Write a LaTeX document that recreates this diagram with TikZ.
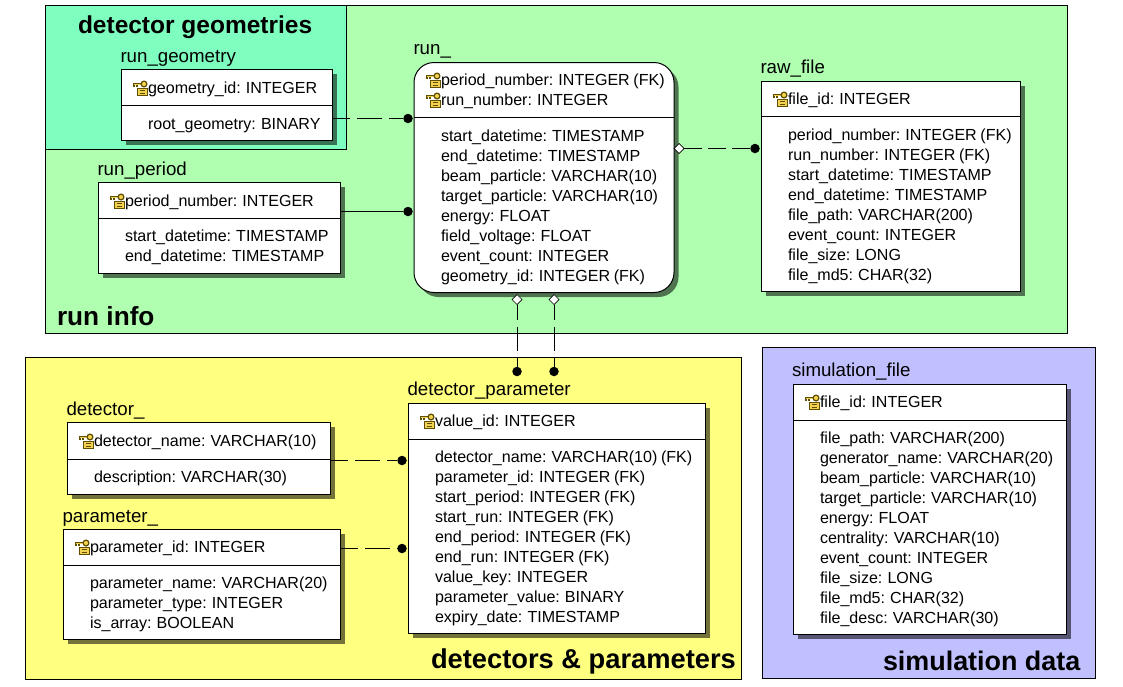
\documentclass[tikz,border=0pt]{standalone}
\usepackage{fontspec}
\setmainfont{Liberation Sans}
\usetikzlibrary{calc,shapes.geometric}
\definecolor{rungreen}{HTML}{B0FFB0}
\definecolor{geomteal}{HTML}{7FFFBF}
\definecolor{detyellow}{HTML}{FFFF80}
\definecolor{simblue}{HTML}{C0C0FF}
\definecolor{keygold}{HTML}{F2D250}
\definecolor{keyedge}{HTML}{5F4E00}
\tikzset{
  region/.style={draw=black,line width=1pt,rectangle,anchor=north west,inner sep=0pt,outer sep=0pt},
  entitybox/.style={draw=black,fill=white,line width=1pt,rectangle,anchor=north west,inner sep=0pt,outer sep=0pt},
  entityshadow/.style={fill=black,fill opacity=.55,rectangle,anchor=north west,inner sep=0pt,outer sep=0pt},
  field/.style={anchor=base west,inner sep=0pt,outer sep=0pt,font=\fontsize{16.05}{20}\selectfont},
  entname/.style={anchor=base west,inner sep=0pt,outer sep=0pt,font=\fontsize{18.7}{20}\selectfont},
  biglabel/.style={anchor=base west,inner sep=0pt,outer sep=0pt,font=\fontsize{27}{30}\selectfont\bfseries},
  rel/.style={line width=1pt,draw=black},
  reldash/.style={rel,dash pattern=on 25pt off 7pt,dash phase=7pt},
  rawdash/.style={rel,dash pattern=on 18pt off 6pt},
  vertdash/.style={rel,dash pattern=on 24pt off 7pt,dash phase=9pt},
  dot/.style={circle,fill=black,draw=none,minimum size=9.5pt,inner sep=0pt,outer sep=0pt},
  opend/.style={diamond,draw=black,fill=white,line width=.7pt,minimum size=10pt,inner sep=0pt,outer sep=0pt},
  keyicon/.pic={
    \fill[keygold,draw=keyedge,line width=.9pt] (4.5,8) rectangle (14,14.5);
    \draw[keyedge,line width=1pt] (6.5,10) -- (12,10) (6.5,12.5) -- (12,12.5);
    \draw[keyedge,line width=2.2pt] (0,3.5) -- (8.5,3.5);
    \draw[keygold,line width=.9pt] (0.5,3.5) -- (8.5,3.5);
    \draw[keyedge,line width=1.1pt] (1,4) -- (1,6.5) (4,4) -- (4,6);
    \fill[keygold,draw=keyedge,line width=1.2pt] (11,3.5) circle (2.9);
  }
}
% [extra] x1, y1, x2, y2, divider y, title, name
\newcommand{\entity}[8][]{%
  \node[entityshadow,#1,minimum width={#4-#2},minimum height={#5-#3}] (#8-sh) at ({#2+4.5},{#3+4.5}) {};
  \node[entitybox,#1,minimum width={#4-#2},minimum height={#5-#3}] (#8) at (#2,#3) {};
  \draw[line width=1pt] (#8.west |- 0,#6) -- (#8.east |- 0,#6);
}
\newcommand{\enttitle}[4]{\node[entname] (#1-title) at (#2,#3) {#4};}
% prefix, x of text, first baseline, rows
\newcommand{\fields}[4]{%
  \foreach \rowtext [count=\rowi] in {#4}
    \node[field,name=#1-\rowi] at (#2,{#3+20*(\rowi-1)}) {\spaceskip=3.6pt\relax\rowtext};
}
\begin{document}
\begin{tikzpicture}[x=1pt,y=-1pt]
\useasboundingbox (0,0) rectangle (1123,686);
\begin{scope}[yshift=-.5pt]
% regions
\node[region,fill=rungreen,minimum width=1022pt,minimum height=328pt] (runinfo) at (45,5) {};
\node[region,fill=geomteal,minimum width=301pt,minimum height=144pt] (geomreg) at (45,5) {};
\node[region,fill=detyellow,minimum width=716pt,minimum height=322pt] (detreg) at (25,357) {};
\node[region,fill=simblue,minimum width=333pt,minimum height=331pt] (simreg) at (762,347) {};
\node[biglabel,font=\fontsize{24.5}{27}\selectfont\bfseries] (lab1) at (78,33) {detector geometries};
\node[biglabel,font=\fontsize{26.2}{29}\selectfont\bfseries] (lab2) at (57,325) {run info};
\node[biglabel,font=\fontsize{27.3}{30}\selectfont\bfseries] (lab3) at (431,668) {detectors \& parameters};
\node[biglabel,font=\fontsize{26.9}{30}\selectfont\bfseries] (lab4) at (883,670) {simulation data};
% entities
\entity{121}{69}{332}{140}{105}{run\_geometry}{geom}
\entity{98}{182}{340}{273}{218}{run\_period}{period}
\entity[rounded corners=20pt]{414}{62}{674}{292}{117}{run\_}{run}
\entity{761}{81}{1020}{291}{116}{raw\_file}{raw}
\entity{67}{422}{330}{494}{459}{detector\_}{det}
\entity{63}{529}{340}{639}{565}{parameter\_}{par}
\entity{408}{403}{705}{633}{439}{detector\_parameter}{dp}
\entity{793}{384}{1066}{634}{420}{simulation\_file}{sim}
\enttitle{geom}{120.5}{62}{run\_geometry}
\enttitle{period}{97.5}{175}{run\_period}
\enttitle{run}{413.5}{54}{run\_}
\enttitle{raw}{760.5}{73}{raw\_file}
\enttitle{det}{66.5}{415}{detector\_}
\enttitle{par}{62.5}{522}{parameter\_}
\enttitle{dp}{407.5}{395}{detector\_parameter}
\enttitle{sim}{792}{376}{simulation\_file}
% rows
\fields{geomk}{148}{93}{geometry\_id: INTEGER}
\fields{geomf}{148}{129}{root\_geometry: BINARY}
\fields{periodk}{125}{206}{period\_number: INTEGER}
\fields{periodf}{125}{241}{start\_datetime: TIMESTAMP,end\_datetime: TIMESTAMP}
\fields{runk}{441}{85}{period\_number: INTEGER (FK),run\_number: INTEGER}
\fields{runf}{441}{141}{start\_datetime: TIMESTAMP,end\_datetime: TIMESTAMP,beam\_particle: VARCHAR(10),target\_particle: VARCHAR(10),energy: FLOAT,field\_voltage: FLOAT,event\_count: INTEGER,geometry\_id: INTEGER (FK)}
\fields{rawk}{788}{104}{file\_id: INTEGER}
\fields{rawf}{788}{140}{period\_number: INTEGER (FK),run\_number: INTEGER (FK),start\_datetime: TIMESTAMP,end\_datetime: TIMESTAMP,file\_path: VARCHAR(200),event\_count: INTEGER,file\_size: LONG,file\_md5: CHAR(32)}
\fields{detk}{94}{446}{detector\_name: VARCHAR(10)}
\fields{detf}{94}{482}{description: VARCHAR(30)}
\fields{park}{90}{552}{parameter\_id: INTEGER}
\fields{parf}{90}{588}{parameter\_name: VARCHAR(20),parameter\_type: INTEGER,is\_array: BOOLEAN}
\fields{dpk}{435}{426}{value\_id: INTEGER}
\fields{dpf}{435}{462}{detector\_name: VARCHAR(10) (FK),parameter\_id: INTEGER (FK),start\_period: INTEGER (FK),start\_run: INTEGER (FK),end\_period: INTEGER (FK),end\_run: INTEGER (FK),value\_key: INTEGER,parameter\_value: BINARY,expiry\_date: TIMESTAMP}
\fields{simk}{820}{407}{file\_id: INTEGER}
\fields{simf}{820}{443}{file\_path: VARCHAR(200),generator\_name: VARCHAR(20),beam\_particle: VARCHAR(10),target\_particle: VARCHAR(10),energy: FLOAT,centrality: VARCHAR(10),event\_count: INTEGER,file\_size: LONG,file\_md5: CHAR(32),file\_desc: VARCHAR(30)}
% key icons
\foreach \kx/\ky in {133/80,110/193,426/72,426/92,773/91,79/433,75/539,420/413,805/394}
  \pic at (\kx,\ky) {keyicon};
% connectors
\coordinate (geomend) at (332,118);
\node[dot] (d1) at (408,118) {};
\draw[reldash] (geom.east |- geomend) -- (d1);
\node[dot] (d2) at (408,211) {};
\draw[rel] (period.east |- d2) -- (d2);
\node[opend] (o3) at (679,148) {};
\node[dot] (d3) at (755,148) {};
\draw[rawdash] (o3) -- (d3);
\node[opend] (o4) at (517,299) {};
\node[dot] (d4) at (517,371) {};
\draw[vertdash] (o4) -- (d4);
\node[opend] (o5) at (554,299) {};
\node[dot] (d5) at (554,371) {};
\draw[vertdash] (o5) -- (d5);
\node[dot] (d6) at (402,460) {};
\draw[reldash] (det.east |- d6) -- (d6);
\node[dot] (d7) at (402,548) {};
\draw[reldash] (par.east |- d7) -- (d7);
\end{scope}
\end{tikzpicture}
\end{document}
